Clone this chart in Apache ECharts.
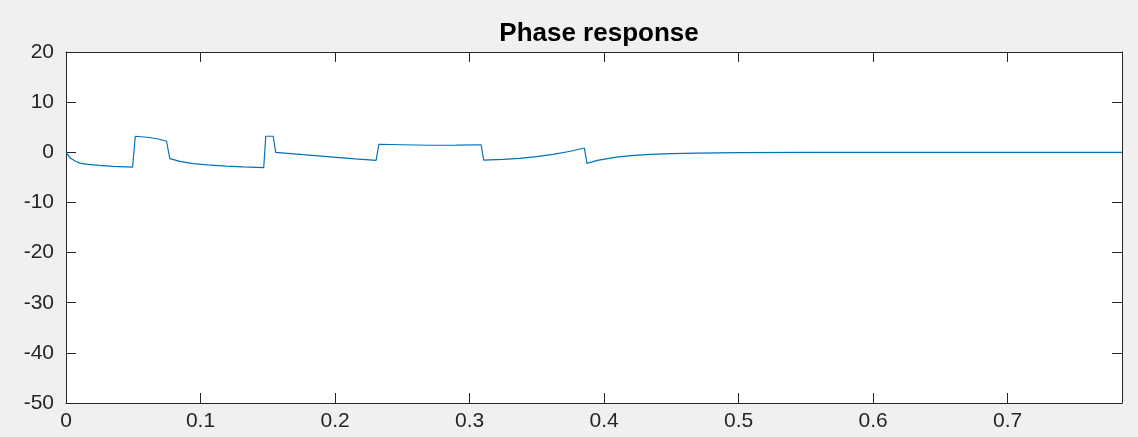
<!DOCTYPE html>
<html>
<head>
<meta charset="utf-8">
<style>
html,body{margin:0;padding:0;background:#f0f0f0;}
#chart{width:1138px;height:437px;}
</style>
<script src="https://cdn.jsdelivr.net/npm/echarts@6/dist/echarts.min.js"></script>
</head>
<body>
<div id="chart"></div>
<script>
// Normalized frequency samples (x) and phase values (y)
const freq = [0, 0.003, 0.007, 0.0104, 0.016, 0.025, 0.035, 0.0495, 0.0505, 0.0515,
  0.06, 0.068, 0.0747, 0.0772, 0.0846, 0.0945, 0.105, 0.119, 0.132, 0.147,
  0.1485, 0.154, 0.1559, 0.176, 0.201, 0.215, 0.2305, 0.2326, 0.25, 0.27,
  0.29, 0.3086, 0.3105, 0.325, 0.337, 0.35, 0.362, 0.375, 0.3853, 0.3873,
  0.395, 0.409, 0.42, 0.434, 0.45, 0.47, 0.5, 0.55, 0.6, 0.7, 0.785];
const phase = [0, -1.1, -1.8, -2.15, -2.4, -2.6, -2.8, -2.95, -3.0, 3.2,
  3.0, 2.7, 2.2, -1.27, -1.8, -2.27, -2.5, -2.75, -2.9, -3.05,
  3.2, 3.2, 0.0, -0.45, -1.0, -1.3, -1.6, 1.6, 1.5, 1.4,
  1.42, 1.5, -1.55, -1.4, -1.2, -0.85, -0.4, 0.2, 0.85, -2.2,
  -1.6, -0.95, -0.65, -0.4, -0.25, -0.15, -0.08, -0.03, 0, 0, 0];
const titleText = 'Phase response';
const xMin = 0, xMax = 0.785, xStep = 0.1;
const yMin = -50, yMax = 20, yStep = 10;

const points = freq.map((f, i) => [f, phase[i]]);
const axisColor = '#262626';
const labelFont = {color: axisColor, fontSize: 21, fontFamily: 'Liberation Sans, Arial, sans-serif'};
const lineCfg = {show: true, onZero: false, lineStyle: {color: axisColor, width: 1}};
const tickCfg = {show: true, inside: true, length: 10, lineStyle: {color: axisColor}};

const chart = echarts.init(document.getElementById('chart'));
chart.setOption({
  backgroundColor: '#f0f0f0',
  animation: false,
  title: {
    text: titleText,
    left: 594, textAlign: 'center',
    top: 16,
    textStyle: {fontSize: 26, fontWeight: 'bold', color: '#000', fontFamily: 'Liberation Sans, Arial, sans-serif'}
  },
  grid: {left: 66, right: 16, top: 52, bottom: 34, show: true, backgroundColor: '#ffffff', borderWidth: 0},
  xAxis: [{
    type: 'value', min: xMin, max: xMax, interval: xStep, position: 'bottom',
    axisLine: lineCfg, axisTick: tickCfg,
    axisLabel: Object.assign({margin: 8, showMaxLabel: false}, labelFont),
    splitLine: {show: false}
  }, {
    type: 'value', min: xMin, max: xMax, interval: xStep, position: 'top',
    axisLine: lineCfg, axisTick: tickCfg,
    axisLabel: {show: false},
    splitLine: {show: false}
  }],
  yAxis: [{
    type: 'value', min: yMin, max: yMax, interval: yStep, position: 'left',
    axisLine: lineCfg, axisTick: tickCfg,
    axisLabel: Object.assign({margin: 12}, labelFont),
    splitLine: {show: false}
  }, {
    type: 'value', min: yMin, max: yMax, interval: yStep, position: 'right',
    axisLine: lineCfg, axisTick: tickCfg,
    axisLabel: {show: false},
    splitLine: {show: false}
  }],
  series: [{
    type: 'line', data: points, xAxisIndex: 0, yAxisIndex: 0,
    showSymbol: false, smooth: false,
    lineStyle: {color: '#0072BD', width: 1.2},
    itemStyle: {color: '#0072BD'}
  }]
});
</script>
</body>
</html>
